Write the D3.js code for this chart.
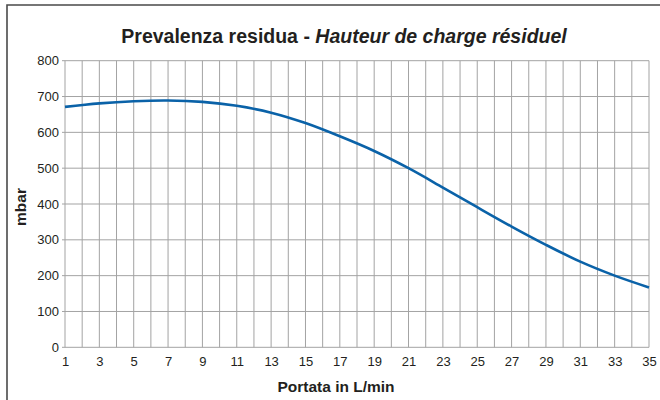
<!DOCTYPE html>
<html>
<head>
<meta charset="utf-8">
<script src="https://cdn.jsdelivr.net/npm/d3@7"></script>
<style>
  body { margin: 0; background: #fff; }
  text { font-family: "Liberation Sans", Arial, sans-serif; fill: #231f20; }
</style>
</head>
<body>
<div id="content"></div>
<script>
// flow rate (L/min) and residual head (mbar)
var flow = [1, 3, 5, 7, 9, 11, 13, 15, 17, 19, 21, 23, 25, 27, 29, 31, 33, 35];
var head = [671, 681, 687, 689, 685, 674, 655, 626, 589, 548, 500, 446, 391, 337, 286, 239, 200, 167];
var xTicks = [1, 3, 5, 7, 9, 11, 13, 15, 17, 19, 21, 23, 25, 27, 29, 31, 33, 35];
var yTicks = [0, 100, 200, 300, 400, 500, 600, 700, 800];

var margin = {top: 60.7, right: 11, bottom: 52.7, left: 65};
var W = 660, H = 400,
    width = W - margin.left - margin.right,
    height = H - margin.top - margin.bottom;

var svg = d3.select('#content').append('svg')
    .attr('width', W)
    .attr('height', H);

// frame (only left and top edges are visible)
svg.append('path')
    .attr('d', 'M7,400 L7,5 L660,5')
    .style('fill', 'none')
    .style('stroke', '#4a4a4a')
    .style('stroke-width', 1.6);

var x = d3.scaleLinear().domain([1, 35]).range([0, width]);
var y = d3.scaleLinear().domain([0, 800]).range([height, 0]);

var g = svg.append('g')
    .attr('transform', 'translate(' + margin.left + ',' + margin.top + ')');

// grid: a line at every integer flow, every 100 mbar
g.selectAll('line.vg').data(d3.range(1, 36))
  .enter().append('line')
    .attr('x1', function(d){ return x(d); })
    .attr('x2', function(d){ return x(d); })
    .attr('y1', 0)
    .attr('y2', height)
    .style('stroke', '#a3a3a3')
    .style('stroke-width', 1);

g.selectAll('line.hg').data(yTicks)
  .enter().append('line')
    .attr('x1', -3)
    .attr('x2', width)
    .attr('y1', function(d){ return y(d); })
    .attr('y2', function(d){ return y(d); })
    .style('stroke', '#a3a3a3')
    .style('stroke-width', 1);

var yAxis = d3.axisLeft(y).tickValues(yTicks).tickSize(0).tickPadding(6);
var yG = g.append('g').call(yAxis);
yG.select('.domain').remove();
yG.selectAll('text').style('font-size', '13px').style('fill', '#231f20')
    .style('font-family', '"Liberation Sans", Arial, sans-serif');

var xAxis = d3.axisBottom(x).tickValues(xTicks).tickSize(0).tickPadding(9);
var xG = g.append('g').attr('transform', 'translate(0,' + height + ')').call(xAxis);
xG.select('.domain').remove();
xG.selectAll('text').style('font-size', '13px').style('fill', '#231f20')
    .style('font-family', '"Liberation Sans", Arial, sans-serif');

// curve
var line = d3.line()
    .x(function(d, i){ return x(flow[i]); })
    .y(function(d){ return y(d); })
    .curve(d3.curveCatmullRom.alpha(0.5));

g.append('path')
    .datum(head)
    .attr('d', line)
    .style('fill', 'none')
    .style('stroke', '#0a62a8')
    .style('stroke-width', 2.6);

// titles
var title = svg.append('text')
    .attr('x', 344)
    .attr('y', 43)
    .attr('text-anchor', 'middle')
    .style('font-size', '19.5px')
    .style('font-weight', 'bold');
title.append('tspan').text('Prevalenza residua - ');
title.append('tspan').style('font-style', 'italic').text('Hauteur de charge résiduel');

svg.append('text')
    .attr('x', 336)
    .attr('y', 392)
    .attr('text-anchor', 'middle')
    .style('font-size', '15.5px')
    .style('font-weight', 'bold')
    .text('Portata in L/min');

svg.append('text')
    .attr('transform', 'translate(26,207) rotate(-90)')
    .attr('text-anchor', 'middle')
    .style('font-size', '15.5px')
    .style('font-weight', 'bold')
    .text('mbar');
</script>
</body>
</html>
